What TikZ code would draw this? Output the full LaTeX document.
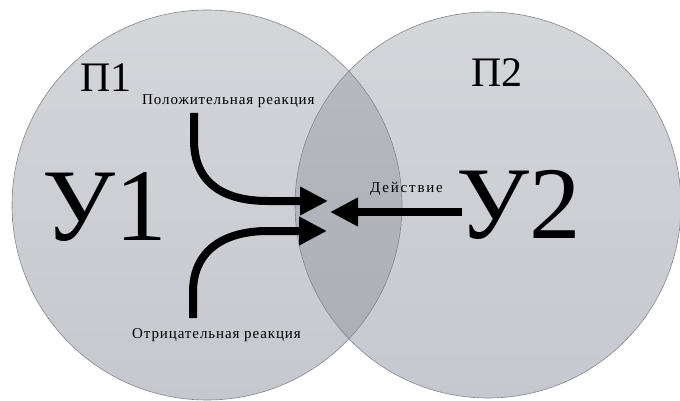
\documentclass[tikz,border=0pt]{standalone}
\usepackage{fontspec}
\setmainfont{Liberation Serif}
\usetikzlibrary{arrows.meta}
\definecolor{fillTop}{RGB}{212,214,218}
\definecolor{fillBot}{RGB}{197,200,206}
\definecolor{ovTop}{RGB}{184,187,193}
\definecolor{ovBot}{RGB}{170,173,180}
\definecolor{edgeGrey}{RGB}{135,135,138}
\begin{document}
\begin{tikzpicture}[x=1pt,y=-1pt,
  big/.style={font=\fontsize{103}{103}\selectfont, inner sep=0pt, anchor=base west},
  mid/.style={font=\fontsize{42}{42}\selectfont, inner sep=0pt, anchor=base west},
  small/.style={font=\fontsize{15}{15}\selectfont\addfontfeature{LetterSpace=6}, inner sep=0pt, anchor=base west},
  ring/.style={draw=edgeGrey, line width=0.6pt},
  arr/.style={line width=8pt, -{Triangle[length=28pt,width=27pt]}}]
\useasboundingbox (0,0) rectangle (680,401);
% circles
\shade[top color=fillTop, bottom color=fillBot] (207,205) circle [radius=195];
\shade[top color=fillTop, bottom color=fillBot] (488,205) circle [radius=193];
\begin{scope}
  \clip (207,205) circle [radius=195];
  \shade[top color=ovTop, bottom color=ovBot] (488,205) circle [radius=193];
\end{scope}
\draw[ring] (207,205) circle [radius=195];
\draw[ring] (488,205) circle [radius=193];
% texts
\node[mid] (p1) at (80,92) {П1};
\node[mid] (p2) at (471,87) {П2};
\node[big] (u1) at (42,240) {У1};
\node[big] (u2) at (456,238) {У2};
\node[small] (pos) at (142,105) {Положительная реакция};
\node[small] (neg) at (132,338) {Отрицательная реакция};
\node[small, font=\fontsize{15}{15}\selectfont\addfontfeature{LetterSpace=12}] (act) at (370,192) {Действие};
% arrows
\coordinate (s1) at (194,113);
\coordinate (t1) at (328,201);
\coordinate (s2) at (193,318);
\coordinate (t2) at (327,231);
\coordinate (s3) at (462,212);
\coordinate (t3) at (330,212);
\draw[arr] (s1) -- (194,140) .. controls (194,182) and (222,201) .. (268,201) -- (t1);
\draw[arr] (s2) -- (193,292) .. controls (193,252) and (222,231) .. (268,231) -- (t2);
\draw[arr] (s3) -- (t3);
\end{tikzpicture}
\end{document}
